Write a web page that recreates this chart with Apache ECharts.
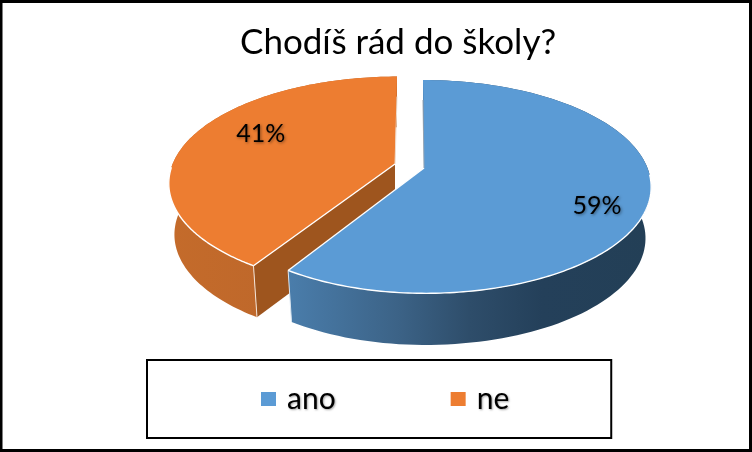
<!DOCTYPE html>
<html><head><meta charset="utf-8">
<style>html,body{margin:0;padding:0;background:#fff}#c{width:752px;height:452px}</style>
<script src="https://cdn.jsdelivr.net/npm/echarts@6/dist/echarts.min.js"></script>
</head><body><div id="c"></div>
<script>
const titleText = 'Chodíš rád do školy?';
const categories = ['ano', 'ne'];
const values = [59, 41];
const palette = ['#5b9bd5', '#ed7d31'];

// Projection of the tilted pie (layout, not data)
const SLICE_GEOM = [
  { cx: 424, cy: 168, skew: -1, leftScale: 0.973, labelR: 0.775, labelDy: 15,
    wall: [[0, '#4a7dab'], [0.3, '#3c6387'], [0.5, '#2e4d6a'], [0.7, '#24405a'], [1, '#233f56']], cut: null, edgeFrom: 0.26 },
  { cx: 395, cy: 164, skew: 2, leftScale: 0.995, labelR: 0.65, labelDy: -12,
    wall: [[0, '#c46b2b'], [1, '#b8642a']], cut: '#9e551e', edgeFrom: 0.59 }
];
const R = 223.5, PERSP = 0.175, RISE = 74, DEPTH = 51, RISE_B = 65.6, BOTTOM_SCALE = 0.975;

function project(g, f, r, bottom) {
  const a = f * 2 * Math.PI;
  const u = Math.sin(a) * r, v = Math.cos(a) * r;
  const d = 1 + PERSP * v;
  const s = (bottom ? R * BOTTOM_SCALE : R) * (u < 0 ? g.leftScale : 1);
  const y0 = g.cy + (bottom ? DEPTH : 0);
  const rise = bottom ? RISE_B : RISE;
  return [g.cx + s * u / d + g.skew * v, (y0 - rise * v) / d];
}
function arc(g, f0, f1, r, bottom) {
  const pts = [], n = 120;
  for (let i = 0; i <= n; i++) pts.push(project(g, f0 + (f1 - f0) * i / n, r, bottom));
  return pts;
}
const total = values.reduce((s, v) => s + v, 0);
function startOf(i) { return values.slice(0, i).reduce((s, v) => s + v, 0) / total; }

function renderSlice(idx) {
  return function (params, api) {
    const g = SLICE_GEOM[idx];
    const f0 = startOf(idx), f1 = f0 + api.value(0) / total;
    const apex = [g.cx, g.cy];
    const topRim = arc(g, f0, f1, 1, false);
    const botRim = arc(g, f0, f1, 1, true);
    const kids = [];
    kids.push({ type: 'polygon', shape: { points: topRim.concat(botRim.slice().reverse()) },
      style: { fill: new echarts.graphic.LinearGradient(0, 0, 1, 0,
        g.wall.map(s => ({ offset: s[0], color: s[1] }))) } });
    const cornerAt = idx === 0 ? f1 : f0;
    const cornerT = project(g, cornerAt, 1, false), cornerB = project(g, cornerAt, 1, true);
    if (g.cut) {
      kids.push({ type: 'polygon', shape: { points: [apex, cornerT, cornerB, [g.cx, g.cy + DEPTH]] },
        style: { fill: g.cut } });
    }
    kids.push({ type: 'line', shape: { x1: cornerT[0], y1: cornerT[1], x2: cornerB[0], y2: cornerB[1] },
      style: { stroke: idx === 0 ? '#dbe6f0' : '#f4e4d8', lineWidth: 1 } });
    kids.push({ type: 'polygon', shape: { points: [apex].concat(topRim) }, style: { fill: api.visual('color') } });
    const front = arc(g, Math.max(f0, g.edgeFrom), Math.min(f1, 0.745), 1, false);
    kids.push({ type: 'polyline', shape: { points: front }, style: { stroke: '#ffffff', lineWidth: 1.4, fill: null } });
    kids.push({ type: 'line', shape: { x1: apex[0], y1: apex[1], x2: cornerT[0], y2: cornerT[1] },
      style: { stroke: '#ffffff', lineWidth: 1.4 } });
    const top0 = project(g, idx === 0 ? f0 : f1, 1, false);
    kids.push({ type: 'line', shape: { x1: apex[0], y1: apex[1], x2: top0[0], y2: top0[1] + 20 },
      style: { stroke: idx === 0 ? '#93a3b3' : '#efdccd', lineWidth: 1 } });
    const lp = project(g, (f0 + f1) / 2, g.labelR, false);
    kids.push({ type: 'text', x: lp[0], y: lp[1] + g.labelDy,
      style: { text: Math.round(api.value(0) / total * 100) + '%', fill: '#000', align: 'center', verticalAlign: 'middle',
        font: '25px Lato', textShadowColor: 'rgba(0,0,0,0.45)', textShadowBlur: 3, textShadowOffsetX: 1, textShadowOffsetY: 1 } });
    return { type: 'group', children: kids };
  };
}

const chart = echarts.init(document.getElementById('c'), null, { renderer: 'canvas' });
chart.setOption({
  animation: false,
  backgroundColor: '#fff',
  color: palette,
  title: { text: titleText, left: 235, top: 20,
    textStyle: { fontFamily: 'Lato', fontSize: 35, fontWeight: 'normal', color: '#000' } },
  legend: {
    data: categories, left: 147, top: 360, orient: 'horizontal', selectedMode: false,
    icon: 'rect', itemWidth: 15, itemHeight: 14, itemGap: 115,
    padding: [24, 102, 24, 114], borderColor: '#000', borderWidth: 2,
    textStyle: { fontFamily: 'Lato', fontSize: 30, color: '#000', padding: [0, 0, 0, 6],
      textShadowColor: 'rgba(0,0,0,0.35)', textShadowBlur: 2, textShadowOffsetX: 1, textShadowOffsetY: 1 }
  },
  graphic: [{ type: 'rect', silent: true, shape: { x: 1, y: 1.5, width: 749.5, height: 449 },
    style: { fill: null, stroke: '#000', lineWidth: 3 } }],
  series: categories.map((name, i) => ({
    type: 'custom', name, coordinateSystem: 'none', data: [[values[i]]], renderItem: renderSlice(i), z: categories.length - i + 1
  }))
});
</script></body></html>
